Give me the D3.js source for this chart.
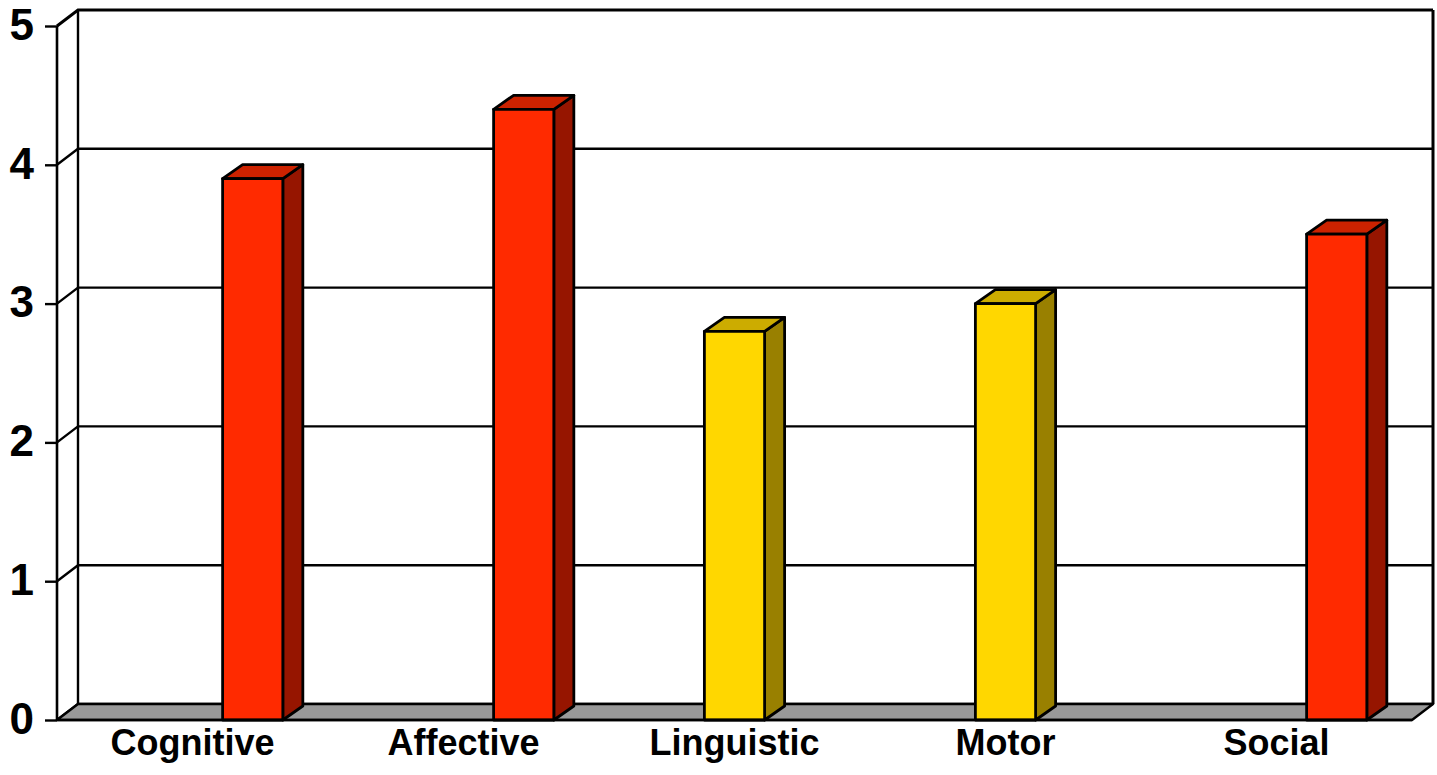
<!DOCTYPE html>
<html>
<head>
<meta charset="utf-8">
<script src="https://cdn.jsdelivr.net/npm/d3@7"></script>
<style>
  html, body { margin: 0; padding: 0; background: #fff; }
  svg { display: block; }
</style>
</head>
<body>
<svg id="chart" width="1437" height="775"></svg>
<script>
// data
const categories = ["Cognitive", "Affective", "Linguistic", "Motor", "Social"];
const seriesNames = ["blank", "yellow", "red"];
const redValues = [3.9, 4.4, null, null, 3.5];
const yellowValues = [null, null, 2.8, 3.0, null];
const yTicks = [0, 1, 2, 3, 4, 5];

const colors = {
  red: { front: "#ff2a00", top: "#cc2200", side: "#961500" },
  yellow: { front: "#ffd700", top: "#ccac00", side: "#998000" }
};

const svg = d3.select("#chart");

// front plane + depth offsets
const plot = { left: 57, right: 1412, top: 26, bottom: 720 };
const wallDx = 21, wallDy = -16;
const barDx = 20, barDy = -14;

const y = d3.scaleLinear().domain([0, 5]).range([plot.bottom, plot.top]);
const x = d3.scaleBand().domain(categories).range([plot.left, plot.right]);
const xInner = d3.scaleBand().domain(seriesNames).range([0, x.bandwidth()]).paddingOuter(0.75).paddingInner(0);

const line = d3.line();

// back wall
svg.append("rect")
  .attr("x", plot.left + wallDx).attr("y", y(5) + wallDy)
  .attr("width", plot.right - plot.left).attr("height", y(0) - y(5))
  .attr("fill", "#fff");

// left wall
svg.append("path")
  .attr("d", line([[plot.left, y(0)], [plot.left + wallDx, y(0) + wallDy], [plot.left + wallDx, y(5) + wallDy], [plot.left, y(5)]]) + "Z")
  .attr("fill", "#fff");

// gridlines: back wall + diagonal on the left wall
yTicks.forEach(t => {
  svg.append("path")
    .attr("d", line([[plot.left, y(t)], [plot.left + wallDx, y(t) + wallDy], [plot.right + wallDx, y(t) + wallDy]]))
    .attr("fill", "none").attr("stroke", "#000").attr("stroke-width", t === 5 ? 3 : 2.4);
});

// back wall verticals
[plot.left + wallDx, plot.right + wallDx].forEach(xx => {
  svg.append("line")
    .attr("x1", xx).attr("x2", xx)
    .attr("y1", y(0) + wallDy).attr("y2", y(5) + wallDy)
    .attr("stroke", "#000").attr("stroke-width", xx === plot.left + wallDx ? 2.4 : 3);
});

// floor
svg.append("path")
  .attr("d", line([[plot.left, y(0)], [plot.right, y(0)], [plot.right + wallDx, y(0) + wallDy], [plot.left + wallDx, y(0) + wallDy]]) + "Z")
  .attr("fill", "#999").attr("stroke", "#000").attr("stroke-width", 2.4).attr("stroke-linejoin", "round");

// bars
const bars = [];
categories.forEach((c, i) => {
  if (yellowValues[i] != null) bars.push({ cat: c, series: "yellow", value: yellowValues[i] });
  if (redValues[i] != null) bars.push({ cat: c, series: "red", value: redValues[i] });
});

const barG = svg.selectAll("g.bar").data(bars).join("g").attr("class", "bar");

barG.each(function(d) {
  const g = d3.select(this);
  const x0 = x(d.cat) + xInner(d.series);
  const x1 = x0 + xInner.bandwidth();
  const y0 = y(0), y1 = y(d.value);
  const col = colors[d.series];
  const style = sel => sel.attr("stroke", "#000").attr("stroke-width", 2.8).attr("stroke-linejoin", "round");

  g.append("path")
    .attr("d", line([[x1, y0], [x1 + barDx, y0 + barDy], [x1 + barDx, y1 + barDy], [x1, y1]]) + "Z")
    .attr("fill", col.side).call(style);
  g.append("path")
    .attr("d", line([[x0, y1], [x1, y1], [x1 + barDx, y1 + barDy], [x0 + barDx, y1 + barDy]]) + "Z")
    .attr("fill", col.top).call(style);
  g.append("rect")
    .attr("x", x0).attr("y", y1)
    .attr("width", x1 - x0).attr("height", y0 - y1)
    .attr("fill", col.front).call(style);
});

// front y axis
svg.append("line")
  .attr("x1", plot.left).attr("x2", plot.left)
  .attr("y1", y(0)).attr("y2", y(5))
  .attr("stroke", "#000").attr("stroke-width", 2.6);
svg.append("line")
  .attr("x1", plot.left).attr("x2", plot.right)
  .attr("y1", y(0)).attr("y2", y(0))
  .attr("stroke", "#000").attr("stroke-width", 2.6);

const yAxis = svg.append("g")
  .attr("transform", `translate(${plot.left},0)`)
  .call(d3.axisLeft(y).tickValues(yTicks).tickFormat(d3.format("d")).tickSize(12).tickPadding(11));
yAxis.select(".domain").remove();
yAxis.selectAll(".tick line").attr("stroke", "#000").attr("stroke-width", 2.4);
yAxis.selectAll(".tick text")
  .attr("font-family", "Liberation Sans, Arial, sans-serif")
  .attr("font-weight", "bold").attr("font-size", 44).attr("fill", "#000")
  .attr("dy", "0.3em");

// category labels
const xAxis = svg.append("g")
  .attr("transform", `translate(0,${plot.bottom})`)
  .call(d3.axisBottom(x).tickSize(0).tickPadding(9));
xAxis.select(".domain").remove();
xAxis.selectAll(".tick text")
  .attr("font-family", "Liberation Sans, Arial, sans-serif")
  .attr("font-weight", "bold").attr("font-size", 36).attr("fill", "#000");
</script>
</body>
</html>
